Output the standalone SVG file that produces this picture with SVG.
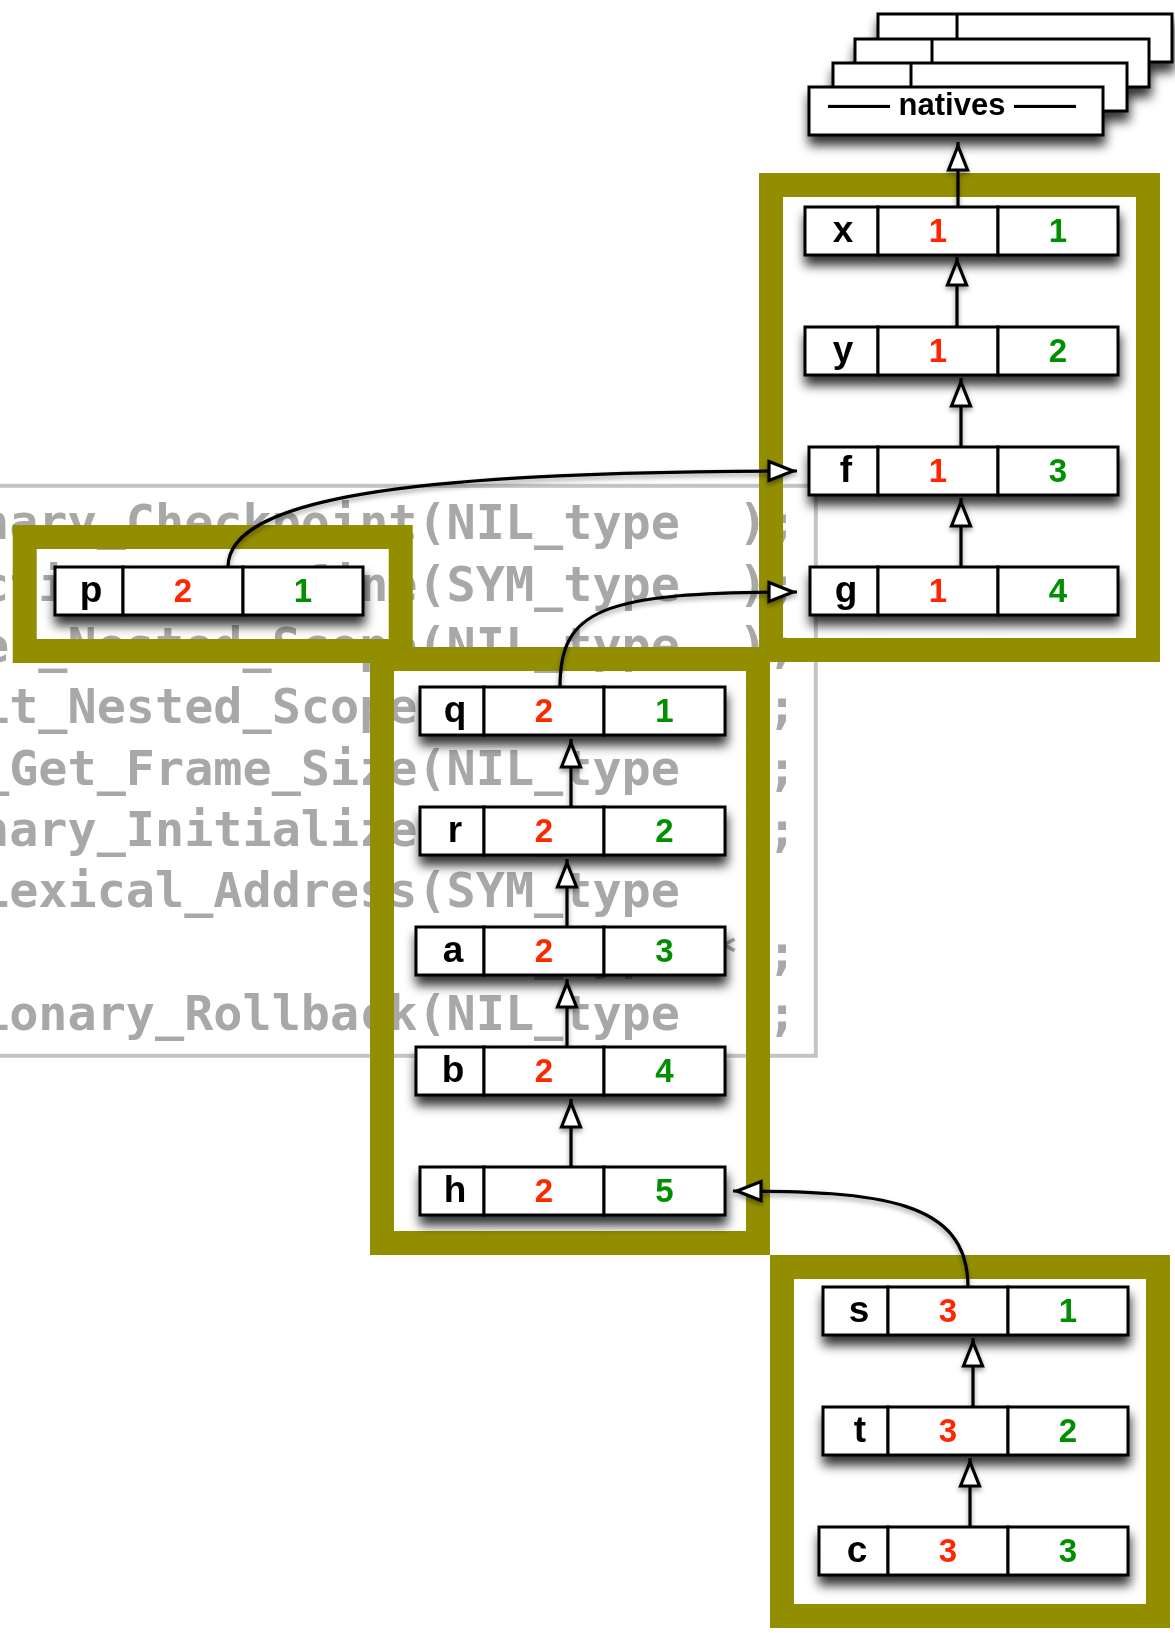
<svg xmlns="http://www.w3.org/2000/svg" width="1175" height="1633" viewBox="0 0 1175 1633">
  <defs>
    <filter id="shadow" x="-20%" y="-50%" width="140%" height="220%">
      <feDropShadow dx="1" dy="9" stdDeviation="5.5" flood-color="#000" flood-opacity="0.8"/>
    </filter>
    <filter id="lineShadow" x="-50%" y="-20%" width="200%" height="140%">
      <feDropShadow dx="0" dy="3" stdDeviation="2.5" flood-color="#000" flood-opacity="0.4"/>
    </filter>
    <marker id="head" markerUnits="userSpaceOnUse" viewBox="-4 -14 36 28" markerWidth="36" markerHeight="28" refX="28" refY="0" orient="auto">
      <path d="M0,-9.5 L24,0 L0,9.5 Z" fill="#fff" stroke="#000" stroke-width="3.2"/>
    </marker>
  </defs>
  <style>
    .code{font-family:"DejaVu Sans Mono",monospace;font-weight:bold;font-size:48.45px;fill:#a8a8a8;white-space:pre}
    .codebox{fill:none;stroke:#c4c4c4;stroke-width:4}
    .frame{fill:none;stroke:#938e00;stroke-width:24}
    .cell{fill:#fff;stroke:#000;stroke-width:3}
    .name,.lvl,.idx,.title{font-family:"Liberation Sans",Arial,Helvetica,sans-serif;font-weight:bold;text-anchor:middle}
    .name{font-size:37px;fill:#000}
    .lvl{font-size:33px;fill:#ff2600}
    .idx{font-size:33px;fill:#008f00}
    .title{font-size:31px;fill:#000;white-space:pre}
    .link{fill:none;stroke:#000;stroke-width:3.2;marker-end:url(#head)}
  </style>

  <rect x="0" y="0" width="1175" height="1633" fill="#fff"/>

  <!-- source listing in the background -->
  <g id="listing">
    <rect class="codebox" x="-20" y="485.8" width="835.8" height="570"/>
    <text class="code" x="-19.97" y="539.2" xml:space="preserve">nary_Checkpoint(NIL_type  );</text>
    <text class="code" x="-19.97" y="600.6" xml:space="preserve">ctionary_Define(SYM_type  );</text>
    <text class="code" x="-19.97" y="661.9" xml:space="preserve">er_Nested_Scope(NIL_type  );</text>
    <text class="code" x="-19.97" y="723.3" xml:space="preserve">it_Nested_Scope(NIL_type  );</text>
    <text class="code" x="-19.97" y="784.7" xml:space="preserve">_Get_Frame_Size(NIL_type  );</text>
    <text class="code" x="-19.97" y="846" xml:space="preserve">nary_Initialize(NIL_type  );</text>
    <text class="code" x="-19.97" y="907.4" xml:space="preserve">Lexical_Address(SYM_type</text>
    <text class="code" x="417.6" y="968.7" xml:space="preserve">(SYM_type * ;</text>
    <text class="code" x="-19.97" y="1030.1" xml:space="preserve">ionary_Rollback(NIL_type  );</text>
  </g>

  <!-- scope frames -->
  <g id="frames">
    <rect id="frame-1" class="frame" x="771" y="185" width="377" height="465"/>
    <rect id="frame-2" class="frame" x="24.7" y="537" width="376" height="114"/>
    <rect id="frame-3" class="frame" x="382" y="659" width="376" height="584"/>
    <rect id="frame-4" class="frame" x="782" y="1267" width="376" height="349"/>
  </g>

  <!-- stacked natives table -->
  <g id="natives" filter="url(#shadow)">
    <rect class="cell" x="878" y="14" width="294" height="48"/>
    <line x1="957" y1="14" x2="957" y2="62" stroke="#000" stroke-width="3"/>
    <rect class="cell" x="855" y="39" width="294" height="48"/>
    <line x1="932" y1="39" x2="932" y2="87" stroke="#000" stroke-width="3"/>
    <rect class="cell" x="833" y="63" width="294" height="48"/>
    <line x1="911" y1="63" x2="911" y2="111" stroke="#000" stroke-width="3"/>
    <rect class="cell" x="809" y="87" width="294" height="48"/>
    <text class="title" x="952" y="115" xml:space="preserve">—— natives ——</text>
  </g>

  <!-- links between entries -->
  <g id="connectors" filter="url(#lineShadow)">
    <path class="link" d="M958,207 L958,142"/>
    <path class="link" d="M957,327 L957,257"/>
    <path class="link" d="M961,447 L961,378"/>
    <path class="link" d="M961,567 L961,498"/>
    <path class="link" d="M571,807 L571,739"/>
    <path class="link" d="M567,927 L567,859"/>
    <path class="link" d="M567,1047 L567,979"/>
    <path class="link" d="M571,1167 L571,1099"/>
    <path class="link" d="M973,1407 L973,1338"/>
    <path class="link" d="M970,1527 L970,1458"/>
    <path class="link" d="M228,567 C228,500 400,471 797,471"/>
    <path class="link" d="M560,687 C560,610 600,592 797,592"/>
    <path class="link" d="M968,1287 C968,1200 880,1191 733,1191"/>
  </g>

  <!-- symbol entries: name | level | index -->
  <g id="node-x" filter="url(#shadow)">
    <rect class="cell" x="805" y="207" width="73" height="48"/>
    <rect class="cell" x="878" y="207" width="120" height="48"/>
    <rect class="cell" x="998" y="207" width="120" height="48"/>
    <text class="name" x="843" y="242">x</text>
    <text class="lvl" x="938" y="242">1</text>
    <text class="idx" x="1058" y="242">1</text>
  </g>
  <g id="node-y" filter="url(#shadow)">
    <rect class="cell" x="805" y="327" width="73" height="48"/>
    <rect class="cell" x="878" y="327" width="120" height="48"/>
    <rect class="cell" x="998" y="327" width="120" height="48"/>
    <text class="name" x="843" y="362">y</text>
    <text class="lvl" x="938" y="362">1</text>
    <text class="idx" x="1058" y="362">2</text>
  </g>
  <g id="node-f" filter="url(#shadow)">
    <rect class="cell" x="809" y="447" width="69" height="48"/>
    <rect class="cell" x="878" y="447" width="120" height="48"/>
    <rect class="cell" x="998" y="447" width="120" height="48"/>
    <text class="name" x="846" y="482">f</text>
    <text class="lvl" x="938" y="482">1</text>
    <text class="idx" x="1058" y="482">3</text>
  </g>
  <g id="node-g" filter="url(#shadow)">
    <rect class="cell" x="810" y="567" width="68" height="48"/>
    <rect class="cell" x="878" y="567" width="120" height="48"/>
    <rect class="cell" x="998" y="567" width="120" height="48"/>
    <text class="name" x="846" y="602">g</text>
    <text class="lvl" x="938" y="602">1</text>
    <text class="idx" x="1058" y="602">4</text>
  </g>
  <g id="node-p" filter="url(#shadow)">
    <rect class="cell" x="55" y="567" width="68" height="48"/>
    <rect class="cell" x="123" y="567" width="120" height="48"/>
    <rect class="cell" x="243" y="567" width="120" height="48"/>
    <text class="name" x="91" y="602">p</text>
    <text class="lvl" x="183" y="602">2</text>
    <text class="idx" x="303" y="602">1</text>
  </g>
  <g id="node-q" filter="url(#shadow)">
    <rect class="cell" x="420" y="687" width="64" height="48"/>
    <rect class="cell" x="484" y="687" width="120" height="48"/>
    <rect class="cell" x="604" y="687" width="121" height="48"/>
    <text class="name" x="455" y="722">q</text>
    <text class="lvl" x="544" y="722">2</text>
    <text class="idx" x="664.5" y="722">1</text>
  </g>
  <g id="node-r" filter="url(#shadow)">
    <rect class="cell" x="420" y="807" width="64" height="48"/>
    <rect class="cell" x="484" y="807" width="120" height="48"/>
    <rect class="cell" x="604" y="807" width="121" height="48"/>
    <text class="name" x="455" y="842">r</text>
    <text class="lvl" x="544" y="842">2</text>
    <text class="idx" x="664.5" y="842">2</text>
  </g>
  <g id="node-a" filter="url(#shadow)">
    <rect class="cell" x="416" y="927" width="68" height="48"/>
    <rect class="cell" x="484" y="927" width="120" height="48"/>
    <rect class="cell" x="604" y="927" width="121" height="48"/>
    <text class="name" x="453" y="962">a</text>
    <text class="lvl" x="544" y="962">2</text>
    <text class="idx" x="664.5" y="962">3</text>
  </g>
  <g id="node-b" filter="url(#shadow)">
    <rect class="cell" x="416" y="1047" width="68" height="48"/>
    <rect class="cell" x="484" y="1047" width="120" height="48"/>
    <rect class="cell" x="604" y="1047" width="121" height="48"/>
    <text class="name" x="453" y="1082">b</text>
    <text class="lvl" x="544" y="1082">2</text>
    <text class="idx" x="664.5" y="1082">4</text>
  </g>
  <g id="node-h" filter="url(#shadow)">
    <rect class="cell" x="420" y="1167" width="64" height="48"/>
    <rect class="cell" x="484" y="1167" width="120" height="48"/>
    <rect class="cell" x="604" y="1167" width="121" height="48"/>
    <text class="name" x="455" y="1202">h</text>
    <text class="lvl" x="544" y="1202">2</text>
    <text class="idx" x="664.5" y="1202">5</text>
  </g>
  <g id="node-s" filter="url(#shadow)">
    <rect class="cell" x="823" y="1287" width="65" height="48"/>
    <rect class="cell" x="888" y="1287" width="120" height="48"/>
    <rect class="cell" x="1008" y="1287" width="120" height="48"/>
    <text class="name" x="859" y="1322">s</text>
    <text class="lvl" x="948" y="1322">3</text>
    <text class="idx" x="1068" y="1322">1</text>
  </g>
  <g id="node-t" filter="url(#shadow)">
    <rect class="cell" x="823" y="1407" width="65" height="48"/>
    <rect class="cell" x="888" y="1407" width="120" height="48"/>
    <rect class="cell" x="1008" y="1407" width="120" height="48"/>
    <text class="name" x="860" y="1442">t</text>
    <text class="lvl" x="948" y="1442">3</text>
    <text class="idx" x="1068" y="1442">2</text>
  </g>
  <g id="node-c" filter="url(#shadow)">
    <rect class="cell" x="819" y="1527" width="69" height="48"/>
    <rect class="cell" x="888" y="1527" width="120" height="48"/>
    <rect class="cell" x="1008" y="1527" width="120" height="48"/>
    <text class="name" x="857" y="1562">c</text>
    <text class="lvl" x="948" y="1562">3</text>
    <text class="idx" x="1068" y="1562">3</text>
  </g>
</svg>
